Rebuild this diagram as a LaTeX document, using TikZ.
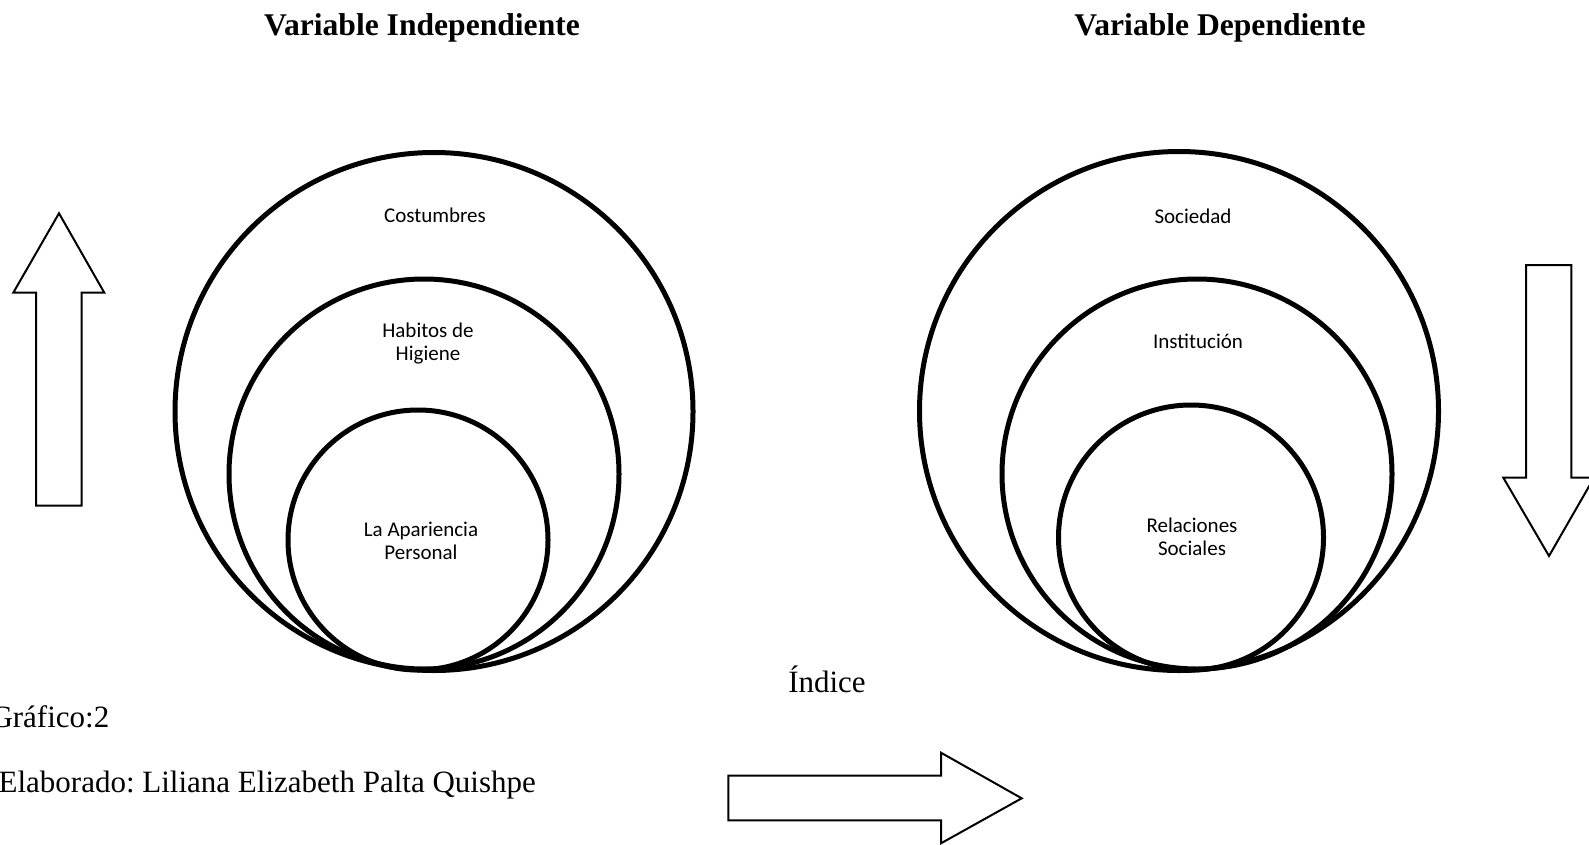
\documentclass[tikz,border=0pt]{standalone}
\usepackage{fontspec}
\setmainfont{Liberation Serif}
\newfontfamily\calibri{Carlito}
\frenchspacing
\begin{document}
\begin{tikzpicture}[x=1pt,y=-1pt,
  ring/.style={draw, circle, line width=5pt, inner sep=0pt},
  lbl/.style={font=\calibri\fontsize{21}{23}\selectfont, align=center, inner sep=0pt},
  ttl/.style={font=\bfseries\fontsize{31.6}{36}\selectfont, inner sep=0pt, anchor=base},
  txt/.style={font=\fontsize{31}{36}\selectfont, inner sep=0pt},
  bigarrow/.style={draw, line width=2pt, line join=miter, fill=white}]
\useasboundingbox (0,0) rectangle (1589,845);

% titles
\node[ttl] (t1) at (422,35.5) {Variable Independiente};
\node[ttl] (t2) at (1220,35.5) {Variable Dependiente};

% left circles
\node[ring, minimum size=518pt] (lc1) at (434,411.5) {};
\node[ring, minimum size=390pt] (lc2) at (424,474) {};
\node[ring, minimum size=260pt] (lc3) at (418,540) {};
\node[lbl] (l1) at (435,215) {Costumbres};
\node[lbl] (l2) at (428,344) {Habitos de\\Higiene};
\node[lbl] (l3) at (421,541) {La Apariencia\\Personal};

% right circles
\node[ring, minimum size=519pt] (rc1) at (1179,411) {};
\node[ring, minimum size=390pt] (rc2) at (1197,474) {};
\node[ring, minimum size=265pt] (rc3) at (1191,537.5) {};
\node[lbl] (r1) at (1193,216) {Sociedad};
\node[lbl] (r2) at (1198,341) {Institución};
\node[lbl] (r3) at (1192,537) {Relaciones\\Sociales};

% block arrows
\draw[bigarrow] (36,505.7) -- (36,292.7) -- (13.3,292.7) -- (59,213.3) -- (104.3,292.7) -- (81.7,292.7) -- (81.7,505.7) -- cycle;
\draw[bigarrow] (1526,265) -- (1571.3,265) -- (1571.3,477.7) -- (1594,477.7) -- (1549,556) -- (1503.3,477.7) -- (1526,477.7) -- cycle;
\draw[bigarrow] (728.3,775.7) -- (941,775.7) -- (941,752.7) -- (1021.7,798.3) -- (941,843.3) -- (941,820.3) -- (728.3,820.3) -- cycle;

% texts
\node[txt, anchor=base] (idx) at (827,692) {Índice};
\node[txt, anchor=base east] (gr) at (109.5,727.6) {Gráfico:2};
\node[txt, anchor=base east] (el) at (536,792.5) {Elaborado: Liliana Elizabeth Palta Quishpe};
\end{tikzpicture}
\end{document}
